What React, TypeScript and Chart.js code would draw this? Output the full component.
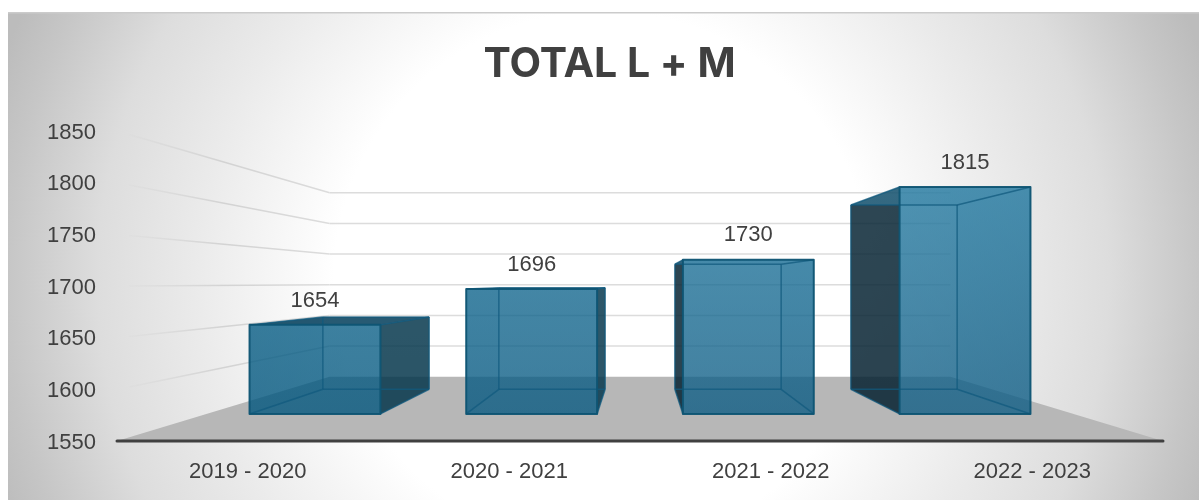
import React, { useEffect, useRef } from "react";
import { Chart, registerables } from "chart.js";

Chart.register(...registerables);

const categories = ["2019 - 2020", "2020 - 2021", "2021 - 2022", "2022 - 2023"];
const totals = [1654, 1696, 1730, 1815];
const chartTitle = "TOTAL L + M";
const axisMin = 1550;
const axisMax = 1850;
const axisStep = 50;

// Perspective of the 3D box: vanishing point and depth factors
const VX = 640;
const VY = 283;
const S_WALL = 0.5935;
const S_FRONT = 0.8286;
const S_BACK = 0.673;
const LABEL_OFFSET = 28.5;
const TEXT = "#404040";
const TICK_FONT = { family: "'Liberation Sans', sans-serif", size: 22 };
// Slight darkening of the lit faces, bar by bar
const barShade = [14, 8, 2, 0];

const proj = (x: number, y: number, s: number): [number, number] => [VX + (x - VX) * s, VY + (y - VY) * s];

function poly(ctx: CanvasRenderingContext2D, pts: [number, number][]) {
  ctx.beginPath();
  pts.forEach((p, i) => (i ? ctx.lineTo(p[0], p[1]) : ctx.moveTo(p[0], p[1])));
  ctx.closePath();
}

const boxPlugin = {
  id: "box3d",
  beforeDraw(chart: any) {
    const { ctx, width, height } = chart;
    ctx.save();
    const g = ctx.createRadialGradient(603, 280, 0, 603, 280, 640);
    g.addColorStop(0, "#ffffff");
    g.addColorStop(0.42, "#ffffff");
    g.addColorStop(0.63, "#ebebeb");
    g.addColorStop(0.79, "#dddddd");
    g.addColorStop(0.93, "#c6c6c6");
    g.addColorStop(1, "#bcbcbc");
    ctx.fillStyle = g;
    ctx.fillRect(8, 12, width - 8, height - 12);
    ctx.fillStyle = "#cbcbcb";
    ctx.fillRect(8, 12, width - 8, 1.5);
    ctx.restore();
  },
  beforeDatasetsDraw(chart: any) {
    const { ctx, scales, chartArea } = chart;
    const { left, right } = chartArea;
    const y = scales.y;
    ctx.save();
    // floor
    const bottom = y.getPixelForValue(axisMin);
    poly(ctx, [
      [left, bottom],
      [right, bottom],
      proj(right, bottom, S_WALL),
      proj(left, bottom, S_WALL),
    ]);
    ctx.fillStyle = "#b7b7b7";
    ctx.fill();
    // gridlines: side wall then back wall
    const [wallX] = proj(left, 0, S_WALL);
    const fade = ctx.createLinearGradient(left, 0, wallX, 0);
    fade.addColorStop(0, "rgba(205,205,205,0)");
    fade.addColorStop(0.5, "rgba(208,208,208,0.9)");
    fade.addColorStop(1, "#dcdcdc");
    y.ticks.forEach((t: any) => {
      if (t.value === axisMin) return;
      const py = y.getPixelForValue(t.value);
      const a = proj(left, py, S_WALL);
      const b = proj(right, py, S_WALL);
      ctx.lineWidth = 1.5;
      ctx.strokeStyle = fade;
      ctx.beginPath();
      ctx.moveTo(left + 12, py + ((a[1] - py) * 12) / (a[0] - left));
      ctx.lineTo(a[0], a[1]);
      ctx.stroke();
      ctx.strokeStyle = "#dcdcdc";
      ctx.beginPath();
      ctx.moveTo(a[0], a[1]);
      ctx.lineTo(b[0], b[1]);
      ctx.stroke();
    });
    ctx.restore();
  },
  beforeDatasetDraw(chart: any, args: any) {
    const { ctx } = chart;
    const meta = chart.getDatasetMeta(args.index);
    meta.data.forEach((el: any, i: number) => {
      const d = barShade[i];
      const gradFor = (alpha: number) => {
        const g = ctx.createLinearGradient(0, 186, 0, 414);
        g.addColorStop(0, `rgba(${Math.max(30 - d, 0)},${118 - d},${158 - d},${alpha})`);
        g.addColorStop(1, `rgba(${Math.max(14 - d, 0)},${92 - d / 2},${132 - d / 2},${alpha})`);
        return g;
      };
      const x0 = el.x - el.width / 2;
      const x1 = el.x + el.width / 2;
      const top = el.y;
      const base = el.base;
      const fbl = proj(x0, base, S_FRONT);
      const fbr = proj(x1, base, S_FRONT);
      const ftl = proj(x0, top, S_FRONT);
      const ftr = proj(x1, top, S_FRONT);
      const bbl = proj(x0, base, S_BACK);
      const bbr = proj(x1, base, S_BACK);
      const btl = proj(x0, top, S_BACK);
      const btr = proj(x1, top, S_BACK);
      const inner = gradFor(0.54);
      const outerFace = (pts: [number, number][], col: string, visible: boolean) => {
        poly(ctx, pts);
        ctx.fillStyle = visible ? col : inner;
        ctx.fill();
      };
      ctx.save();
      // back and bottom
      poly(ctx, [bbl, bbr, btr, btl]);
      ctx.fillStyle = gradFor(0.5);
      ctx.fill();
      poly(ctx, [fbl, fbr, bbr, bbl]);
      ctx.fillStyle = gradFor(0.5);
      ctx.fill();
      // sides and top, dark when their outside faces the viewer
      outerFace([fbl, ftl, btl, bbl], "rgba(4,21,31,0.7)", bbl[0] < fbl[0]);
      outerFace([fbr, ftr, btr, bbr], "rgba(7,48,65,0.7)", bbr[0] > fbr[0]);
      outerFace([ftl, ftr, btr, btl], "rgba(0,54,81,0.7)", btl[1] < ftl[1]);
      // front
      poly(ctx, [fbl, fbr, ftr, ftl]);
      ctx.fillStyle = gradFor(0.56);
      ctx.fill();
      // edges
      ctx.lineJoin = "round";
      ctx.lineWidth = 1.5;
      ctx.strokeStyle = "rgba(16,90,125,0.75)";
      const seg = (a: [number, number], b: [number, number]) => {
        ctx.beginPath();
        ctx.moveTo(a[0], a[1]);
        ctx.lineTo(b[0], b[1]);
        ctx.stroke();
      };
      seg(bbl, bbr);
      seg(bbr, btr);
      seg(btr, btl);
      seg(btl, bbl);
      seg(fbl, bbl);
      seg(fbr, bbr);
      seg(ftl, btl);
      seg(ftr, btr);
      ctx.lineWidth = 2;
      ctx.strokeStyle = "rgba(14,84,115,0.95)";
      poly(ctx, [fbl, fbr, ftr, ftl]);
      ctx.stroke();
      ctx.restore();
    });
    return false;
  },
  afterDatasetsDraw(chart: any) {
    const { ctx, chartArea, scales } = chart;
    const y = scales.y;
    const base = y.getPixelForValue(axisMin);
    ctx.save();
    ctx.strokeStyle = "#404040";
    ctx.lineWidth = 3;
    ctx.lineCap = "round";
    ctx.beginPath();
    ctx.moveTo(chartArea.left, base);
    ctx.lineTo(chartArea.right, base);
    ctx.stroke();
    // value labels
    ctx.fillStyle = TEXT;
    ctx.font = `${TICK_FONT.size}px ${TICK_FONT.family}`;
    ctx.textAlign = "center";
    ctx.textBaseline = "middle";
    const meta = chart.getDatasetMeta(0);
    meta.data.forEach((el: any, i: number) => {
      const [lx, ly] = proj(el.x, y.getPixelForValue(totals[i] + LABEL_OFFSET), S_FRONT);
      ctx.fillText(String(totals[i]), lx, ly);
    });
    ctx.restore();
  },
};

export default function App() {
  const ref = useRef<HTMLCanvasElement>(null);
  useEffect(() => {
    const chart = new Chart(ref.current as HTMLCanvasElement, {
      type: "bar",
      data: {
        labels: categories,
        datasets: [
          {
            label: chartTitle,
            data: totals,
            base: axisMin,
            backgroundColor: "#156082",
            barPercentage: 0.604,
            categoryPercentage: 1,
          },
        ],
      },
      options: {
        responsive: false,
        animation: false,
        layout: { padding: { left: 20, right: 0, top: 0, bottom: 0 } },
        plugins: {
          legend: { display: false },
          tooltip: { enabled: false },
          title: {
            display: true,
            text: chartTitle,
            color: TEXT,
            font: { family: "Inter, sans-serif", size: 41, weight: "bold", lineHeight: 1.2 },
            padding: { top: 40, bottom: 41.8 },
          },
        },
        scales: {
          x: {
            grid: { display: false, drawTicks: false },
            border: { display: false },
            afterFit: (s: any) => {
              s.height = 59;
            },
            ticks: { color: TEXT, font: TICK_FONT, padding: 18, maxRotation: 0 },
          },
          y: {
            min: axisMin,
            max: axisMax,
            grid: { display: false, drawTicks: false },
            border: { display: false },
            afterFit: (s: any) => {
              s.width = 97;
            },
            ticks: {
              color: TEXT,
              font: TICK_FONT,
              padding: 21,
              stepSize: axisStep,
              labelOffset: 1.5,
              callback: (v: any) => String(v),
            },
          },
          rightGap: {
            type: "linear",
            position: "right",
            grid: { display: false, drawTicks: false },
            border: { display: false },
            afterFit: (s: any) => {
              s.width = 36;
            },
            ticks: { display: false },
          },
        },
      },
      plugins: [boxPlugin],
    } as any);
    return () => chart.destroy();
  }, []);
  return (
    <canvas
      ref={ref}
      width={1199}
      height={500}
      style={{ position: "absolute", left: 0, top: 0, width: 1199, height: 500, display: "block" }}
    />
  );
}
